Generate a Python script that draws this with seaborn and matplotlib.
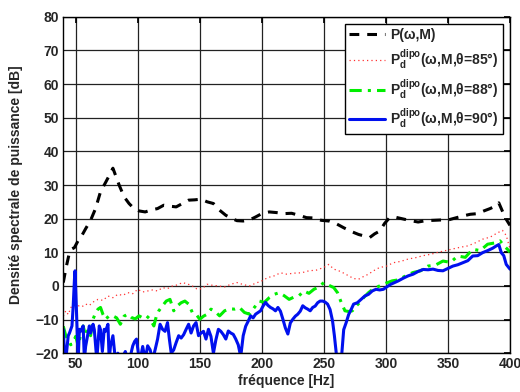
import numpy as np
import pandas as pd
import matplotlib
matplotlib.use("Agg")
import matplotlib.pyplot as plt
import seaborn as sns

# P(w,M) - black dashed
f_p = [40, 42, 45, 47, 49, 52, 55, 58, 62, 66,
       70, 74, 78, 80, 82, 85, 89, 93, 97, 101,
       106, 111, 116, 121, 126, 131, 136, 141, 146, 151,
       156, 161, 166, 171, 176, 180, 185, 190, 195, 200,
       206, 212, 218, 224, 230, 236, 242, 248, 254, 260,
       266, 272, 278, 283, 287, 291, 295, 299, 303, 308,
       314, 320, 326, 332, 338, 344, 350, 356, 362, 368,
       374, 379, 384, 388, 391, 393, 395, 397, 400]
p_tot = [1, 5, 10, 11, 11.4, 13.5, 15, 17, 19.5, 23,
         28, 30.7, 33.5, 35, 33, 30, 26.5, 24.5, 23, 22.3,
         22, 22.6, 23, 24, 23.7, 23.5, 24.5, 25.5, 25.6, 25.8,
         25, 24.5, 22.5, 21, 20, 19.4, 19.3, 19.6, 20.5, 21.5,
         22, 21.8, 21.5, 21.6, 21, 20.3, 20.2, 19.5, 19.3, 18.5,
         17.3, 16.2, 15.3, 14.8, 14.4, 15.5, 16.3, 18.6, 20.3, 20.4,
         19.9, 19.4, 19, 19.4, 19.5, 19.6, 19.6, 20.2, 20.8, 21.3,
         21.5, 22.3, 23, 23.7, 24.7, 23, 21.3, 19.8, 18]

# theta = 85 deg - red dotted
f_85 = [40, 42, 44, 46, 48, 50, 52, 55, 58, 61,
        64, 68, 72, 76, 80, 84, 88, 92, 96, 100,
        104, 108, 112, 116, 120, 124, 128, 132, 136, 140,
        144, 148, 152, 156, 160, 165, 170, 175, 180, 185,
        190, 195, 200, 205, 210, 215, 220, 226, 232, 238,
        244, 250, 254, 258, 262, 266, 270, 274, 278, 282,
        286, 290, 295, 300, 306, 312, 318, 324, 330, 336,
        342, 348, 354, 360, 366, 372, 378, 384, 390, 394,
        397, 400]
p_85 = [-9, -7.4, -8.5, -6.5, -5.5, -6.8, -5.9, -6.2, -5.4, -5.8,
        -4.8, -4, -4.3, -3, -3.5, -2.5, -2.8, -2, -2.3, -1,
        -1.8, -1.5, -1.2, -1.5, -0.5, -0.8, 0, 0.3, 1, 0.6,
        0, -1, -0.8, 0.5, 0.2, 0, -0.3, 0.5, 1, 0.4,
        0, 0.8, 1.5, 2.5, 3, 3.9, 3.5, 3.8, 3.9, 4.5,
        4.7, 5.5, 6.4, 5, 4.5, 3.8, 3, 2.2, 2, 2.8,
        3.5, 4.5, 5.5, 5.8, 6.9, 7.3, 8, 8.4, 9, 9.4,
        10, 10.5, 11, 11.5, 11.9, 12.8, 13.9, 14.5, 15.8, 16.5,
        15, 11]

# theta = 88 deg - green dash-dot
f_88 = [40, 42, 44, 46, 48, 50, 52, 54, 56, 58,
        60, 62, 64, 66, 68, 70, 72, 74, 77, 80,
        83, 86, 89, 92, 95, 98, 101, 104, 107, 110,
        113, 115, 117, 120, 123, 126, 129, 132, 135, 138,
        141, 144, 147, 150, 153, 156, 159, 162, 166, 170,
        174, 178, 182, 186, 190, 194, 198, 202, 206, 210,
        214, 218, 222, 226, 230, 234, 238, 242, 246, 250,
        254, 258, 261, 264, 267, 270, 273, 276, 279, 282,
        286, 290, 295, 300, 305, 310, 316, 322, 328, 334,
        340, 346, 352, 358, 364, 370, 376, 382, 388, 392,
        395, 398, 400]
p_88 = [-12, -14.8, -16, -17.5, -16.8, -15, -17.8, -14.5, -11.9, -14.8,
        -13, -14.8, -9.9, -8, -6.9, -6.4, -8.5, -9.9, -8.9, -8.9,
        -9.5, -11.4, -9, -8.4, -9.4, -9.8, -8.9, -9.5, -8.9, -9.9,
        -11.9, -9, -7.4, -5.9, -4.5, -4, -7.4, -5.9, -5, -4.5,
        -5.4, -7.9, -8.4, -9.9, -9, -8.4, -6.9, -7.5, -8.9, -7.4,
        -6.8, -6.9, -6.4, -7.9, -8.4, -6.4, -4.5, -4.9, -3.5, -2.5,
        -2, -2.9, -4, -3.3, -2.9, -1.5, -2.2, -1, -0.3, 1,
        0.2, -0.5, -2, -4.9, -7.4, -7.6, -7.4, -6, -4.9, -3.5,
        -2, -0.8, 0, 0.8, 1.5, 1.8, 3, 4, 4.5, 5.9,
        6.2, 7.4, 7, 8.9, 8.5, 10.9, 10.5, 12.4, 12.8, 13.4,
        12, 10.9, 10]

# theta = 90 deg - blue solid
f_90 = [40, 41, 42, 44, 45, 47, 48, 49, 49.5, 50.5,
        51, 52, 53, 54, 56, 57, 58, 60, 61, 62,
        64, 65, 67, 69, 70, 71.5, 73, 74, 76, 77,
        78, 80, 82, 84, 86, 88, 90, 92, 94, 96,
        97.5, 99, 100.5, 102, 104, 106, 108, 110, 112, 114,
        116, 118, 120, 122, 124, 125.5, 127, 129, 131, 133,
        135, 137, 139, 141, 143, 145, 147, 149, 151, 153,
        155, 157, 159, 161, 163, 165, 167, 169, 171, 173,
        175, 177, 179, 181, 183, 185, 187, 189, 191, 193,
        195, 197, 199, 201, 203, 205, 207, 209, 211, 213,
        215, 217, 219, 221, 223, 225, 227, 229, 231, 233,
        235, 237, 239, 241, 243, 245, 247, 249, 251, 253,
        255, 257, 258.5, 260, 261.5, 263, 264.5, 266, 268, 270,
        272, 274, 277, 280, 283, 286, 289, 292, 295, 298,
        301, 304, 307, 310, 314, 318, 322, 326, 330, 334,
        338, 342, 346, 350, 354, 358, 362, 366, 370, 374,
        378, 382, 386, 389, 391, 393, 395, 397, 400]
p_90 = [-12.9, -20, -22, -14.8, -14, -11.9, -5.9, 2, 4.5, -5.9,
        -12, -22, -12.9, -13.5, -11.9, -22, -18, -14, -11.9, -14,
        -11.4, -13, -22, -11.9, -13, -19.5, -12.9, -13.5, -11.4, -22,
        -18, -14.8, -22, -20, -22, -21, -19.5, -22, -21, -17.8,
        -16.5, -15.8, -20, -22, -18, -22, -17.8, -19, -22, -19,
        -15.8, -11.4, -12.9, -13.5, -10.9, -15.8, -20, -19, -16.8, -14.8,
        -15.5, -14.5, -12.9, -11.4, -14, -11.9, -10.9, -14.8, -14, -13.5,
        -15.8, -12.9, -15, -20, -16, -12.9, -13.5, -14.5, -15.8, -13.4,
        -14, -14.4, -15.8, -17.5, -21, -14.8, -12, -10.5, -8.9, -9.5,
        -8.4, -7.9, -7.4, -6, -4.9, -5.8, -6.4, -6.8, -7.4, -6.4,
        -7.5, -9.9, -12.5, -14.3, -11, -9.9, -9, -8.4, -7.5, -5.9,
        -6.5, -6.9, -7.4, -6.4, -6, -5, -4.5, -4.5, -4.8, -5.4,
        -7, -10.4, -14.8, -20, -22, -22, -20, -13, -10.9, -8.5,
        -7, -5.4, -5, -4, -3, -2.5, -1.5, -1, -1.2, -1,
        -0.2, 0.5, 1, 1.5, 2.3, 3, 3.5, 4.3, 4.9, 4.8,
        5, 4.6, 4.5, 5.2, 5.9, 6.3, 6.9, 7.5, 8.9, 9,
        9.9, 10.5, 11.2, 11.9, 12.3, 9.9, 9, 6.4, 5]

labels = ["P(ω,M)",
          r"$\mathbf{P}_\mathbf{d}^\mathbf{dipo}$(ω,M,θ=85°)",
          r"$\mathbf{P}_\mathbf{d}^\mathbf{dipo}$(ω,M,θ=88°)",
          r"$\mathbf{P}_\mathbf{d}^\mathbf{dipo}$(ω,M,θ=90°)"]

sns.set_theme(style="white")
plt.rcParams['font.family'] = ['Liberation Sans', 'DejaVu Sans']
plt.rcParams['font.weight'] = 'bold'
plt.rcParams['mathtext.fontset'] = 'custom'
plt.rcParams['mathtext.bf'] = 'Liberation Sans:bold'
plt.rcParams['mathtext.rm'] = 'Liberation Sans:bold'

fig = plt.figure(figsize=(5.2, 3.92), dpi=100)
ax = fig.add_axes([0.1217, 0.099, 0.859, 0.858])

sns.lineplot(x=f_p, y=p_tot, ax=ax, color="black", lw=2.2,
             linestyle=(0, (3.2, 2.6)), label=labels[0], sort=False, estimator=None)
sns.lineplot(x=f_85, y=p_85, ax=ax, color="#ff3030", lw=0.9,
             linestyle=(0, (1, 2.5)), label=labels[1], sort=False, estimator=None)
sns.lineplot(x=f_88, y=p_88, ax=ax, color="#00ee00", lw=2.2,
             linestyle=(0, (4, 2, 1, 2)), label=labels[2], sort=False, estimator=None)
sns.lineplot(x=f_90, y=p_90, ax=ax, color="#0010ee", lw=2.2,
             linestyle="-", label=labels[3], sort=False, estimator=None)

ax.set_xlim(40, 400)
ax.set_ylim(-20, 80)
ax.set_xticks(np.arange(50, 401, 50))
ax.set_yticks(np.arange(-20, 81, 10))
ax.grid(True, color="#222222", lw=0.9)
ax.tick_params(direction="in", top=True, right=True, length=4,
               labelsize=10, pad=3, color="black")
for lab in ax.get_xticklabels() + ax.get_yticklabels():
    lab.set_fontweight("bold")
for s in ax.spines.values():
    s.set_color("black")
    s.set_linewidth(1)

ax.set_xlabel("fréquence [Hz]", fontsize=10, fontweight="bold", labelpad=2)
ax.set_ylabel("Densité spectrale de puissance [dB]", fontsize=10, fontweight="bold", labelpad=9)

leg = ax.legend(loc="upper right", fontsize=10, frameon=True, fancybox=False,
                edgecolor="black", framealpha=1, handlelength=2.6,
                labelspacing=0.4, borderaxespad=0.5, borderpad=0.3, handletextpad=0.4)
leg.get_frame().set_linewidth(1)
for t in leg.get_texts():
    t.set_fontweight("bold")

fig.savefig("out.png", dpi=100)
